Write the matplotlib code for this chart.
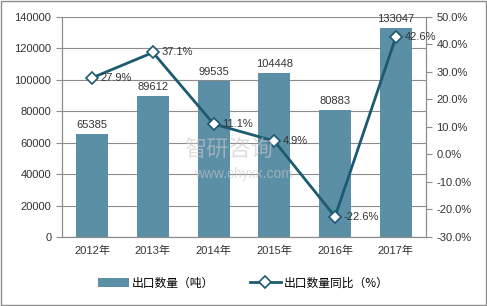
import matplotlib.pyplot as plt
import numpy as np

plt.rcParams['font.family'] = ['Liberation Sans', 'Noto Sans CJK SC', 'DejaVu Sans']

years = ['2012年', '2013年', '2014年', '2015年', '2016年', '2017年']
export_qty = [65385, 89612, 99535, 104448, 80883, 133047]
yoy = [27.9, 37.1, 11.1, 4.9, -22.6, 42.6]

bar_color = '#5b8fa6'
line_color = '#1c5a70'

fig = plt.figure(figsize=(4.87, 3.06), dpi=100)
ax = fig.add_axes([0.127, 0.2255, 0.748, 0.719])
ax2 = ax.twinx()

x = np.arange(len(years))
bars = ax.bar(x, export_qty, width=0.53, color=bar_color, zorder=2, label='出口数量（吨）')
for xi, v in zip(x, export_qty):
    ax.text(xi, v + 2500, str(v), ha='center', va='bottom', fontsize=8, color='#333333', zorder=5)

ax.set_ylim(0, 140000)
ax.set_yticks(range(0, 140001, 20000))
ax.set_xlim(-0.5, 5.5)
ax.set_xticks(x)
ax.set_xticklabels(years)
ax.yaxis.grid(True, color='#8c8c8c', linewidth=0.8, zorder=0)
ax.set_axisbelow(True)

ln, = ax2.plot(x, yoy, color=line_color, linewidth=2, marker='D', markersize=6,
               markerfacecolor='white', markeredgecolor=line_color, markeredgewidth=1.2,
               zorder=4, label='出口数量同比（%）')
for xi, v in zip(x, yoy):
    ax2.text(xi + 0.14, v, f'{v}%', ha='left', va='center', fontsize=8, color='#333333', zorder=5)
ax2.set_ylim(-30, 50)
ax2.set_yticks(range(-30, 51, 10))
ax2.set_yticklabels([f'{t:.1f}%' for t in range(-30, 51, 10)])

for a in (ax, ax2):
    a.spines['top'].set_visible(False)
    a.spines['left'].set_color('#8c8c8c')
    a.spines['right'].set_color('#8c8c8c')
    a.spines['bottom'].set_color('#8c8c8c')
    a.tick_params(labelsize=8, colors='#333333', length=4, color='#8c8c8c')
ax.tick_params(axis='x', length=0, pad=6)

# watermark
fig.text(0.47, 0.505, '智研咨询', fontsize=16, color='#c8c8c8', alpha=0.6, ha='center', va='center', zorder=10)
fig.text(0.50, 0.43, 'www.chyxx.com', fontsize=10, color='#c8c8c8', alpha=0.6, ha='center', va='center', zorder=10)

fig.legend(handles=[bars, ln], loc='center', bbox_to_anchor=(0.5, 0.075), ncol=2,
           frameon=False, handlelength=2.6, columnspacing=3, handletextpad=0.3,
           prop={'family': ['Noto Sans CJK SC', 'DejaVu Sans'], 'size': 8.5})

fig.patches.append(plt.Rectangle((0.002, 0.003), 0.995, 0.994, transform=fig.transFigure,
                                 fill=False, edgecolor='#8c8c8c', linewidth=1))

fig.savefig('out.png', dpi=100)
